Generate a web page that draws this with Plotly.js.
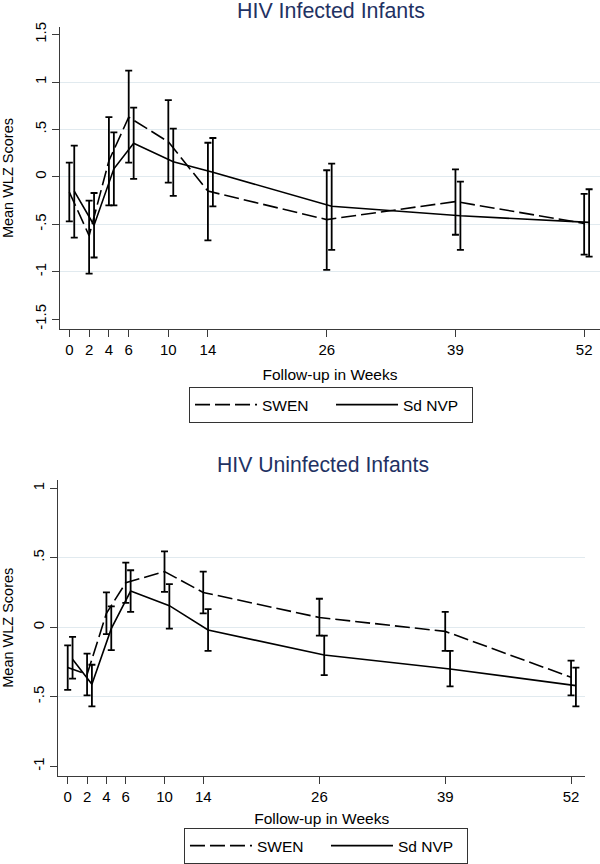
<!DOCTYPE html>
<html>
<head>
<meta charset="utf-8">
<script src="https://cdn.plot.ly/plotly-3.0.1.min.js"></script>
<style>html,body{margin:0;padding:0;background:#fff;}#chart{width:600px;height:864px;}</style>
</head>
<body>
<div id="chart"></div>
<script>
// Follow-up weeks (x categories)
const weeks = [0, 2, 4, 6, 10, 14, 26, 39, 52];
const weekLabels = ['0', '2', '4', '6', '10', '14', '26', '39', '52'];
const nvpOffset = 0.5; // Sd NVP plotted slightly to the right of SWEN

// HIV infected infants
const swenInfMean = [-0.16, -0.62, 0.17, 0.63, 0.37, -0.15, -0.45, -0.26, -0.49];
const swenInfLo   = [-0.47, -1.02, -0.30, 0.15, -0.06, -0.67, -0.98, -0.61, -0.82];
const swenInfHi   = [0.15, -0.25, 0.63, 1.12, 0.81, 0.36, 0.07, 0.08, -0.18];
const nvpInfMean  = [-0.15, -0.51, 0.085, 0.355, 0.16, 0.05, -0.31, -0.41, -0.48];
const nvpInfLo    = [-0.64, -0.85, -0.30, -0.02, -0.20, -0.31, -0.77, -0.77, -0.84];
const nvpInfHi    = [0.33, -0.17, 0.47, 0.73, 0.51, 0.41, 0.14, -0.05, -0.13];

// HIV uninfected infants
const swenUnMean = [-0.29, -0.34, 0.10, 0.32, 0.40, 0.25, 0.07, -0.03, -0.36];
const swenUnLo   = [-0.45, -0.49, -0.05, 0.175, 0.255, 0.10, -0.06, -0.17, -0.49];
const swenUnHi   = [-0.13, -0.19, 0.25, 0.465, 0.545, 0.40, 0.205, 0.11, -0.24];
const nvpUnMean  = [-0.23, -0.41, -0.01, 0.26, 0.155, -0.02, -0.20, -0.30, -0.42];
const nvpUnLo    = [-0.37, -0.57, -0.165, 0.11, -0.01, -0.17, -0.345, -0.425, -0.57];
const nvpUnHi    = [-0.07, -0.27, 0.15, 0.41, 0.31, 0.13, -0.06, -0.17, -0.29];

const infTickVals = [-1.5, -1, -0.5, 0, 0.5, 1, 1.5];
const infTickText = ['-1.5', '-1', '-.5', '0', '.5', '1', '1.5'];
const infGridVals = [-1, -0.5, 0, 0.5, 1];
const unTickVals = [-1, -0.5, 0, 0.5, 1];
const unTickText = ['-1', '-.5', '0', '.5', '1'];
const unGridVals = [-0.5, 0, 0.5];

const FONT = 'Liberation Sans, Arial, Helvetica, sans-serif';
const DASH = '15px,5px';

function series(name, xs, mean, lo, hi, dash, xa, ya, legend) {
  return {
    type: 'scatter', mode: 'lines', name: name,
    x: xs, y: mean,
    xaxis: xa, yaxis: ya, legend: legend, showlegend: true,
    line: {color: '#000', width: 1.6, dash: dash},
    error_y: {
      type: 'data', symmetric: false,
      array: hi.map((h, i) => h - mean[i]),
      arrayminus: mean.map((m, i) => m - lo[i]),
      color: '#000', thickness: 1.8, width: 3.5
    },
    hoverinfo: 'x+y'
  };
}
// empty helper traces so the gridline-only overlay axes get drawn
function gridHolder(xa, ya) {
  return {type: 'scatter', mode: 'lines', x: [], y: [], xaxis: xa, yaxis: ya,
          showlegend: false, hoverinfo: 'skip'};
}

const nvpX = weeks.map(w => w + nvpOffset);

const data = [
  gridHolder('x', 'y3'),
  gridHolder('x2', 'y4'),
  series('SWEN', weeks, swenInfMean, swenInfLo, swenInfHi, DASH, 'x', 'y', 'legend'),
  series('Sd NVP', nvpX, nvpInfMean, nvpInfLo, nvpInfHi, 'solid', 'x', 'y', 'legend'),
  series('SWEN', weeks, swenUnMean, swenUnLo, swenUnHi, DASH, 'x2', 'y2', 'legend2'),
  series('Sd NVP', nvpX, nvpUnMean, nvpUnLo, nvpUnHi, 'solid', 'x2', 'y2', 'legend2')
];

const axisLine = '#3a3a3a';
const gridCol = '#e1eaef';
const tickFont = {family: FONT, size: 15, color: '#000'};
const titleFont = {family: FONT, size: 15.5, color: '#000'};

function xAxis(domain, range, anchor, standoff) {
  return {
    domain: domain, range: range, anchor: anchor,
    tickmode: 'array', tickvals: weeks, ticktext: weekLabels,
    showgrid: false, zeroline: false, showline: true, linecolor: axisLine, linewidth: 1,
    ticks: 'outside', ticklen: 7, tickcolor: axisLine, tickfont: tickFont,
    title: {text: 'Follow-up in Weeks', font: titleFont, standoff: standoff}
  };
}
function yAxis(domain, range, anchor, vals, text) {
  return {
    domain: domain, range: range, anchor: anchor,
    tickmode: 'array', tickvals: vals, ticktext: text, tickangle: -90,
    showgrid: false, zeroline: false, showline: true, linecolor: axisLine, linewidth: 1,
    ticks: 'outside', ticklen: 7, tickcolor: axisLine, tickfont: tickFont,
    title: {text: 'Mean WLZ Scores', font: {family: FONT, size: 14.5, color: '#000'}, standoff: 14}
  };
}
function gridAxis(over, anchor, range, vals) {
  return {
    overlaying: over, anchor: anchor, range: range,
    tickmode: 'array', tickvals: vals, showticklabels: false, ticks: '',
    showgrid: true, gridcolor: gridCol, gridwidth: 1, zeroline: false, showline: false
  };
}

const infRange = [-1.607, 1.582];
const unRange = [-1.067, 1.06];

function legendBox(x, y) {
  return {
    orientation: 'h', x: x, y: y, xanchor: 'center', yanchor: 'top',
    xref: 'paper', yref: 'paper',
    bordercolor: '#333', borderwidth: 1, bgcolor: '#fff',
    font: {family: FONT, size: 15.5, color: '#000'},
    itemwidth: 62, entrywidth: 64, traceorder: 'normal'
  };
}

const layout = {
  width: 600, height: 864,
  margin: {l: 0, r: 0, t: 0, b: 0, pad: 0},
  paper_bgcolor: '#fff', plot_bgcolor: 'rgba(0,0,0,0)',
  font: {family: FONT, color: '#000'},
  showlegend: true,
  xaxis: xAxis([0.1, 1.0], [-0.94, 53.6], 'y', 11),
  yaxis: yAxis([0.618, 0.9688], infRange, 'x', infTickVals, infTickText),
  xaxis2: xAxis([0.0972, 0.975], [-0.97, 53.44], 'y2', 9),
  yaxis2: yAxis([0.1003, 0.4433], unRange, 'x2', unTickVals, unTickText),
  yaxis3: gridAxis('y', 'x', infRange, infGridVals),
  yaxis4: gridAxis('y2', 'x2', unRange, unGridVals),
  legend: legendBox(0.5517, 0.551),
  legend2: legendBox(0.5433, 0.0394),
  annotations: [
    {text: 'HIV Infected Infants', xref: 'paper', yref: 'paper', x: 0.551, y: 0.9873,
     xanchor: 'center', yanchor: 'middle', showarrow: false,
     font: {family: FONT, size: 21.4, color: '#1f3263'}},
    {text: 'HIV Uninfected Infants', xref: 'paper', yref: 'paper', x: 0.5375, y: 0.461,
     xanchor: 'center', yanchor: 'middle', showarrow: false,
     font: {family: FONT, size: 21.2, color: '#1f3263'}}
  ]
};

Plotly.newPlot('chart', data, layout, {displayModeBar: false, staticPlot: true});
</script>
</body>
</html>
